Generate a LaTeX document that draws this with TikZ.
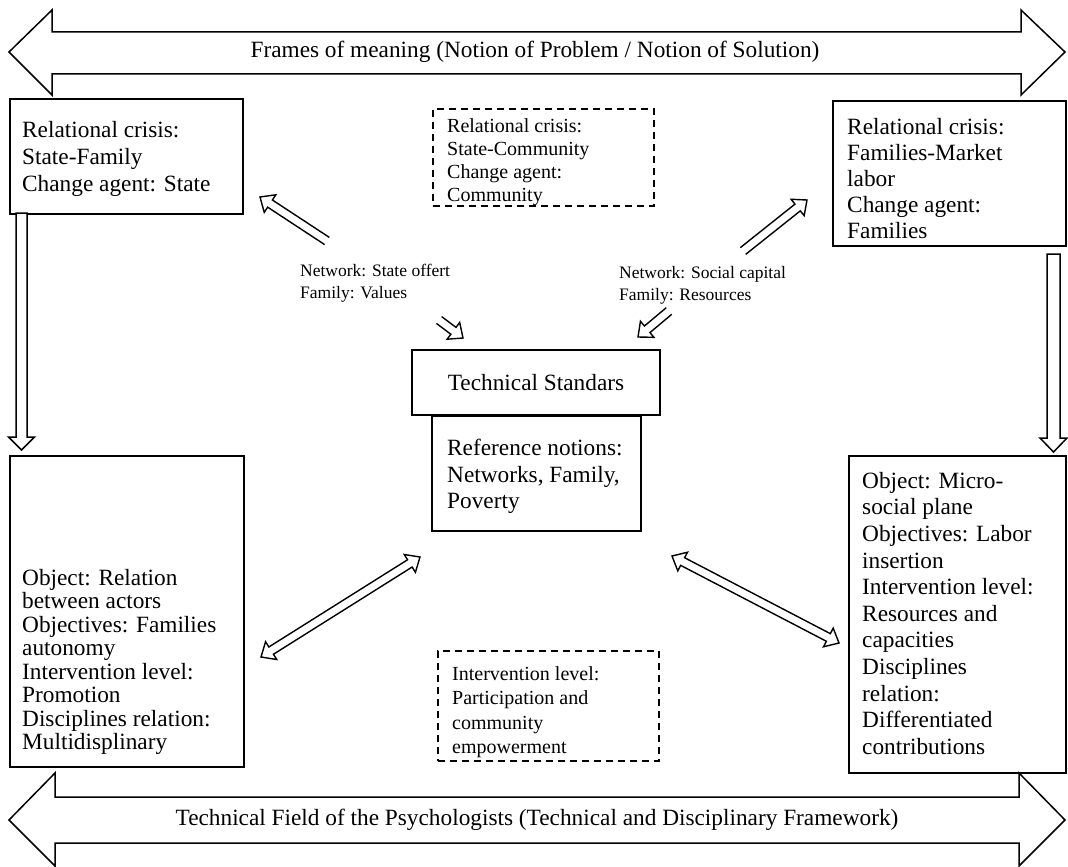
\documentclass[tikz,border=0pt]{standalone}
\usepackage{fontspec}
\setmainfont{Liberation Serif}
\usetikzlibrary{calc}
\def\aw{4.3pt}
\def\ah{10.5pt}
\def\al{12pt}
\newcommand\onewayarrow[2]{%
  \coordinate (hc) at ($(#2)!\al!(#1)$);
  \draw[thinarrow] ($(#1)!\aw!90:(#2)$) -- ($(hc)!\aw!90:(#2)$) -- ($(hc)!\ah!90:(#2)$) -- (#2) -- ($(hc)!\ah!-90:(#2)$) -- ($(hc)!\aw!-90:(#2)$) -- ($(#1)!\aw!-90:(#2)$);
}
\newcommand\twowayarrow[2]{%
  \coordinate (hc) at ($(#2)!\al!(#1)$);
  \coordinate (tc) at ($(#1)!\al!(#2)$);
  \draw[thinarrow] ($(tc)!\aw!90:(#2)$) -- ($(hc)!\aw!90:(#2)$) -- ($(hc)!\ah!90:(#2)$) -- (#2) -- ($(hc)!\ah!-90:(#2)$) -- ($(hc)!\aw!-90:(#2)$) -- ($(tc)!\aw!-90:(#2)$) -- ($(tc)!\ah!-90:(#2)$) -- (#1) -- ($(tc)!\ah!90:(#2)$) -- cycle;
}
\begin{document}
\begin{tikzpicture}[x=1pt,y=-1pt,
  box/.style={draw, line width=1.6pt, inner sep=0pt, anchor=north west},
  dbox/.style={draw, line width=1.5pt, dash pattern=on 7pt off 5pt, inner sep=0pt, anchor=north west},
  bigtxt/.style={font=\fontsize{23.3}{26.6}\selectfont, align=left, inner sep=0pt, anchor=north west},
  midtxt/.style={font=\fontsize{20}{23.3}\selectfont, align=left, inner sep=0pt, anchor=north west},
  lbltxt/.style={font=\fontsize{17.5}{22}\selectfont, align=left, inner sep=0pt, anchor=north west},
  fatarrow/.style={draw, line width=1.5pt, fill=white, line join=miter},
  thinarrow/.style={draw, line width=1.4pt, line join=miter}
]
\useasboundingbox (0,0) rectangle (1068,867);

% big horizontal arrows
\draw[fatarrow] (9,52) -- (52,10) -- (52,32) -- (1021,32) -- (1021,10) -- (1065,52) -- (1021,95) -- (1021,74) -- (52,74) -- (52,95) -- cycle;
\node[font=\fontsize{23.3}{26.4}\selectfont] (frames) at (535,52) {Frames of meaning (Notion of Problem / Notion of Solution)};

\draw[fatarrow] (9,820) -- (55,773) -- (55,797) -- (1019,797) -- (1019,773) -- (1065,820) -- (1019,866) -- (1019,843) -- (55,843) -- (55,866) -- cycle;
\node[font=\fontsize{23.3}{26.4}\selectfont] (field) at (537,820) {Technical Field of the Psychologists (Technical and Disciplinary Framework)};

% boxes
\node[box, minimum width=233pt, minimum height=115pt] (tl) at (9,98) {};
\node[bigtxt] (tlt) at (22,121.5) {Relational crisis:\\State-Family\\Change agent: State};

\node[dbox, minimum width=221pt, minimum height=97pt] (tm) at (432,108) {};
\node[midtxt] (tmt) at (447,118) {Relational crisis:\\State-Community\\Change agent:\\Community};

\node[box, minimum width=233pt, minimum height=145pt] (tr) at (832,100) {};
\node[bigtxt, font=\fontsize{23.3}{26}\selectfont] (trt) at (847,118.5) {Relational crisis:\\Families-Market\\labor\\Change agent:\\Families};

\node[box, minimum width=248pt, minimum height=65pt, anchor=center, font=\fontsize{23.3}{26.4}\selectfont] (ts) at (536,382.5) {Technical Standars};
\node[box, minimum width=209pt, minimum height=115pt] (rn) at (431,415) {};
\node[bigtxt] (rnt) at (447,439) {Reference notions:\\Networks, Family,\\Poverty};

\node[box, minimum width=234pt, minimum height=311pt] (bl) at (9,455) {};
\node[bigtxt, font=\fontsize{23.3}{23.5}\selectfont] (blt) at (22,569) {Object: Relation\\between actors\\Objectives: Families\\autonomy\\Intervention level:\\Promotion\\Disciplines relation:\\Multidisplinary};

\node[box, minimum width=217pt, minimum height=317pt] (br) at (848,455) {};
\node[bigtxt] (brt) at (862,472) {Object: Micro-\\social plane\\Objectives: Labor\\insertion\\Intervention level:\\Resources and\\capacities\\Disciplines\\relation:\\Differentiated\\contributions};

\node[dbox, minimum width=221pt, minimum height=110pt] (bd) at (437,650) {};
\node[midtxt, font=\fontsize{20}{24.3}\selectfont] (bdt) at (452,666.5) {Intervention level:\\Participation and\\community\\empowerment};

% labels
\node[lbltxt] (lab1) at (300,264) {Network: State offert\\Family: Values};
\node[lbltxt] (lab2) at (619,266) {Network: Social capital\\Family: Resources};

% vertical arrows
\draw[fatarrow] (16,213) -- (27,213) -- (27,437) -- (34.5,437) -- (21.5,450) -- (8.5,437) -- (16,437) -- cycle;
\draw[fatarrow] (1047,254) -- (1060,254) -- (1060,438) -- (1067,438) -- (1053.5,452) -- (1040,438) -- (1047,438) -- cycle;

% diagonal arrows
\coordinate (a1t) at (327,241);
\coordinate (a1h) at (260,197);
\coordinate (a2t) at (439,320);
\coordinate (a2h) at (463,338);
\coordinate (a3t) at (743,251);
\coordinate (a3h) at (807,200);
\coordinate (a4t) at (669,311);
\coordinate (a4h) at (638,337);
\coordinate (a5a) at (420,557);
\coordinate (a5b) at (261,657);
\coordinate (a6a) at (672,556);
\coordinate (a6b) at (839,643);
\onewayarrow{a1t}{a1h}
\onewayarrow{a2t}{a2h}
\onewayarrow{a3t}{a3h}
\onewayarrow{a4t}{a4h}
\twowayarrow{a5a}{a5b}
\twowayarrow{a6a}{a6b}
\end{tikzpicture}
\end{document}
